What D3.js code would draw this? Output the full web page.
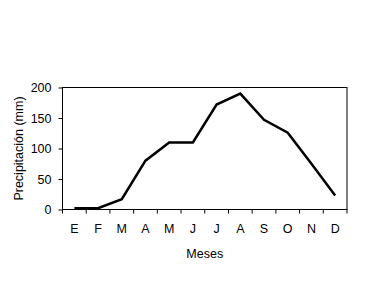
<!DOCTYPE html>
<meta charset="utf-8">
<script src="https://d3js.org/d3.v7.min.js"></script>
<style>
  body { margin: 0; background: #fff; }
  text { font-family: "Liberation Sans", Arial, sans-serif; fill: #000; }
</style>
<div id="chart"></div>
<script>
  // data
  const meses = ["E", "F", "M", "A", "M", "J", "J", "A", "S", "O", "N", "D"];
  const precip = [2, 2, 17, 80, 110, 110, 172, 190, 147, 126, 75, 23];
  const yTicks = [0, 50, 100, 150, 200];

  const W = 379, H = 284;
  const margin = { top: 87.5, right: 32, bottom: 74.5, left: 62.5 };
  const width = W - margin.left - margin.right,
        height = H - margin.top - margin.bottom;

  const svg = d3.select("#chart").append("svg")
    .attr("width", W).attr("height", H);
  const g = svg.append("g")
    .attr("transform", `translate(${margin.left},${margin.top})`);

  const x = d3.scaleBand().domain(d3.range(12)).range([0, width]);
  const y = d3.scaleLinear().domain([0, 200]).range([height, 0]);

  // frame
  g.append("rect")
    .attr("width", width).attr("height", height)
    .attr("fill", "none").attr("stroke", "#000").attr("stroke-width", 1);

  // y axis
  const yAxis = g.append("g")
    .call(d3.axisLeft(y).tickValues(yTicks).tickSize(4).tickPadding(7));
  yAxis.select(".domain").remove();
  yAxis.selectAll("text").style("font-size", "12.5px");

  // x axis ticks at band edges
  const edges = d3.range(13).map(i => i * x.step());
  g.selectAll(".xt").data(edges).join("line")
    .attr("x1", d => d).attr("x2", d => d)
    .attr("y1", height).attr("y2", height + 4)
    .attr("stroke", "#000");
  g.selectAll(".xl").data(meses).join("text")
    .attr("x", (d, i) => x(i) + x.bandwidth() / 2)
    .attr("y", height + 23)
    .attr("text-anchor", "middle")
    .style("font-size", "12.5px")
    .text(d => d);

  // line
  const line = d3.line()
    .x((d, i) => x(i) + x.bandwidth() / 2)
    .y(d => y(d));
  g.append("path").datum(precip)
    .attr("fill", "none").attr("stroke", "#000")
    .attr("stroke-width", 2.5).attr("stroke-linejoin", "miter")
    .attr("d", line);

  // axis titles
  svg.append("text")
    .attr("x", margin.left + width / 2).attr("y", 258)
    .attr("text-anchor", "middle").style("font-size", "12.5px")
    .text("Meses");
  svg.append("text")
    .attr("transform", `translate(23,${margin.top + height / 2}) rotate(-90)`)
    .attr("text-anchor", "middle").style("font-size", "12.5px")
    .text("Precipitación (mm)");
</script>
